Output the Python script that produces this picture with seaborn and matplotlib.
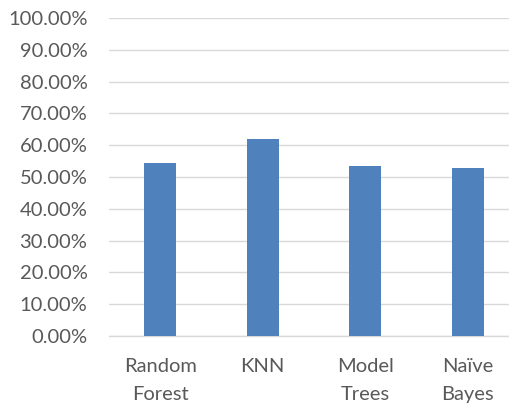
import matplotlib
matplotlib.use("Agg")
import matplotlib.pyplot as plt
import seaborn as sns
import pandas as pd
from matplotlib.ticker import FuncFormatter

# ===== Data =====
models = ["Random\nForest", "KNN", "Model\nTrees", "Naïve\nBayes"]
accuracy = [54.3, 61.9, 53.5, 52.7]

df = pd.DataFrame({"model": models, "accuracy": accuracy})

sns.set_style("white")
plt.rcParams["font.family"] = ["Lato", "DejaVu Sans"]

fig = plt.figure(figsize=(5.10, 4.04), dpi=100)
ax = fig.add_axes([109 / 510, 68 / 404, 410 / 510, 318 / 404])

sns.barplot(data=df, x="model", y="accuracy", color="#4F81BD", width=0.31,
            saturation=1, edgecolor="none", ax=ax, zorder=3)

ax.set_ylim(0, 100)
ax.set_yticks(range(0, 101, 10))
ax.yaxis.set_major_formatter(FuncFormatter(lambda v, p: f"{v:.2f}%"))
ax.set_xlim(-0.5, 3.5)
ax.set_xlabel("")
ax.set_ylabel("")

ax.grid(axis="y", color="#D9D9D9", linewidth=1.0, zorder=0)
for s in ["top", "right", "left"]:
    ax.spines[s].set_visible(False)
ax.spines["bottom"].set_color("#D9D9D9")
ax.spines["bottom"].set_linewidth(1.0)

ax.tick_params(axis="both", length=0, colors="#595959", labelsize=14.5)
ax.tick_params(axis="y", pad=15.5)
ax.tick_params(axis="x", pad=16)
for lbl in ax.get_xticklabels():
    lbl.set_linespacing(1.75)

fig.savefig("out.png", dpi=100)
